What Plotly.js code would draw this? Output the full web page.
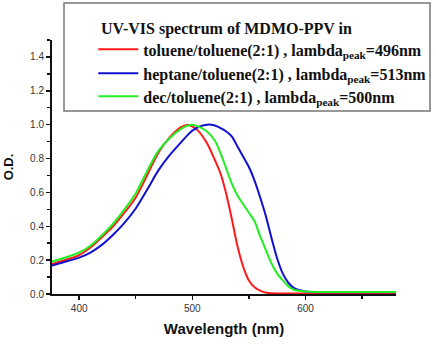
<!DOCTYPE html>
<html>
<head>
<meta charset="utf-8">
<script src="https://cdn.plot.ly/plotly-3.0.1.min.js"></script>
<style>
  html, body { margin: 0; padding: 0; background: #fff; }
  #chart { width: 436px; height: 345px; }
</style>
</head>
<body>
<div id="chart"></div>
<script>
// Absorption spectra of MDMO-PPV in three solvent mixtures
const wavelength = [376, 390, 400, 410, 420, 430, 440, 450, 460, 470, 480, 490, 496, 500, 505, 513, 520, 525, 530, 535, 540, 545, 550, 555, 560, 565, 570, 575, 580, 585, 590, 600, 620, 650, 680];

const odToluene = [0.177, 0.205, 0.23, 0.275, 0.335, 0.40, 0.48, 0.57, 0.70, 0.835, 0.925, 0.985, 1.0, 0.99, 0.965, 0.89, 0.79, 0.71, 0.59, 0.44, 0.28, 0.16, 0.08, 0.04, 0.02, 0.008, 0.004, 0.003, 0.003, 0.003, 0.003, 0.003, 0.003, 0.003, 0.003];

const odHeptane = [0.168, 0.195, 0.215, 0.245, 0.29, 0.35, 0.42, 0.505, 0.615, 0.73, 0.82, 0.895, 0.94, 0.965, 0.985, 1.0, 0.995, 0.98, 0.96, 0.93, 0.87, 0.81, 0.75, 0.67, 0.57, 0.46, 0.33, 0.21, 0.12, 0.065, 0.035, 0.015, 0.01, 0.01, 0.01];

const odDecane = [0.191, 0.22, 0.245, 0.285, 0.345, 0.415, 0.50, 0.595, 0.725, 0.845, 0.92, 0.975, 0.995, 1.0, 0.99, 0.96, 0.905, 0.83, 0.74, 0.65, 0.58, 0.53, 0.48, 0.43, 0.34, 0.26, 0.18, 0.12, 0.08, 0.045, 0.025, 0.015, 0.012, 0.012, 0.012];

const seriesNames = [
  'toluene/toluene(2:1) , lambda<sub>peak</sub>=496nm',
  'heptane/toluene(2:1) , lambda<sub>peak</sub>=513nm',
  'dec/toluene(2:1) , lambda<sub>peak</sub>=500nm'
];
const seriesColors = ['#ff1a1a', '#1010d0', '#22ee22'];
const legendTitle = 'UV-VIS spectrum of MDMO-PPV in';
const xTitle = 'Wavelength (nm)';
const yTitle = 'O.D.';

// each entry gets its own legend box so the rows can sit at an even pitch
const legendIds = ['legend', 'legend2', 'legend3'];
const legendTops = [1.03, 0.9354, 0.8449];

const seriesValues = [odToluene, odHeptane, odDecane];
const traces = seriesValues.map((ys, i) => ({
  type: 'scatter',
  mode: 'lines',
  x: wavelength,
  y: ys,
  name: seriesNames[i],
  legend: legendIds[i],
  line: { color: seriesColors[i], width: 2, shape: 'spline', smoothing: 0.8 },
  hoverinfo: 'skip'
}));

const tickFont = { family: 'Liberation Sans, Arial, sans-serif', size: 10, color: '#333' };
const titleFont = { family: 'Liberation Sans, Arial, sans-serif', size: 15, color: '#111', weight: 'bold' };
const serif = 'Liberation Serif, Times New Roman, serif';
const legendFont = { family: serif, size: 16, color: '#111', weight: 'bold' };

const layout = {
  width: 436,
  height: 345,
  margin: { l: 52, r: 40, t: 40, b: 51, autoexpand: false },
  paper_bgcolor: '#fff',
  plot_bgcolor: '#fff',
  showlegend: true,
  annotations: [{
    text: legendTitle, xref: 'paper', yref: 'paper',
    x: 47 / 344, y: 1 + 11 / 254, xanchor: 'left', yanchor: 'middle',
    showarrow: false, font: legendFont
  }],
  shapes: [{
    type: 'rect', xref: 'paper', yref: 'paper',
    x0: 12 / 344, x1: 378 / 344, y0: 1 - 71 / 254, y1: 1 + 37 / 254,
    line: { color: '#777', width: 1.5 }, fillcolor: 'rgba(0,0,0,0)', layer: 'above'
  }],
  xaxis: {
    range: [376, 680],
    tickmode: 'linear', tick0: 400, dtick: 100,
    ticks: 'outside', ticklen: 4, tickwidth: 1.5, tickcolor: '#111',
    minor: { tickmode: 'linear', tick0: 450, dtick: 100, ticks: 'outside', ticklen: 3, tickwidth: 1.5, tickcolor: '#111' },
    showline: true, linecolor: '#111', linewidth: 2,
    showgrid: false, zeroline: false,
    tickfont: tickFont,
    title: { text: xTitle, font: titleFont, standoff: 10 }
  },
  yaxis: {
    range: [0, 1.5],
    tickmode: 'linear', tick0: 0, dtick: 0.2, tickformat: '.1f',
    ticks: 'outside', ticklen: 4, tickwidth: 1.5, tickcolor: '#111',
    minor: { tickmode: 'linear', tick0: 0.1, dtick: 0.2, ticks: 'outside', ticklen: 3, tickwidth: 1.5, tickcolor: '#111' },
    showline: true, linecolor: '#111', linewidth: 2,
    showgrid: false, zeroline: false,
    tickfont: tickFont,
    title: { text: yTitle, font: { family: 'Liberation Sans, Arial, sans-serif', size: 13, color: '#111', weight: 'bold' }, standoff: 14 }
  }
};

legendIds.forEach((id, i) => {
  layout[id] = {
    x: 0.12, y: legendTops[i], xanchor: 'left', yanchor: 'top',
    bgcolor: 'rgba(0,0,0,0)',
    borderwidth: 0,
    font: legendFont,
    itemwidth: 40
  };
});

Plotly.newPlot('chart', traces, layout, { displayModeBar: false, staticPlot: true });
</script>
</body>
</html>
